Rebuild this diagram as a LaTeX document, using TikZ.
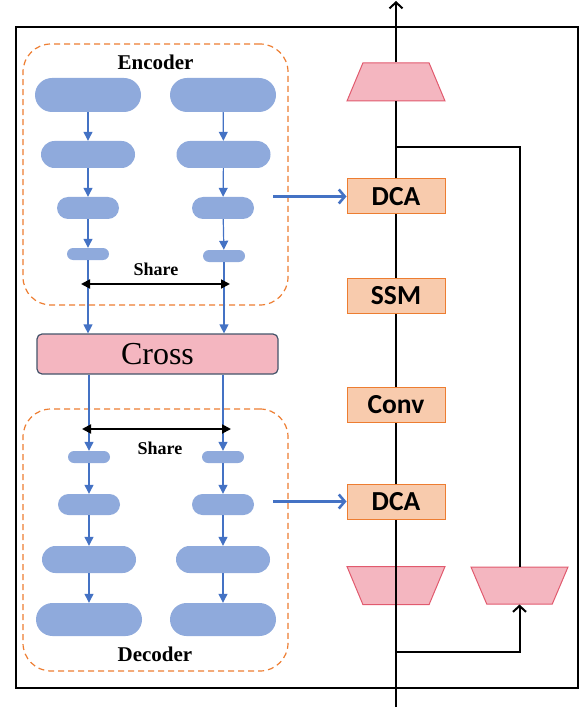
\documentclass[tikz,border=0pt]{standalone}
\usepackage{fontspec}
\setmainfont{Liberation Serif}
\newfontfamily\blockfont{Carlito}
\usetikzlibrary{positioning,shapes.geometric,shapes.misc,arrows.meta}

\definecolor{pillblue}{HTML}{8FAADC}
\definecolor{lineblue}{HTML}{4472C4}
\definecolor{orangeline}{HTML}{ED7D31}
\definecolor{orangefill}{HTML}{F8CBAD}
\definecolor{pinkfill}{HTML}{F4B6C0}
\definecolor{pinkline}{HTML}{E15A6E}
\definecolor{crossline}{HTML}{44546A}

\tikzset{
    pill/.style={rounded rectangle, fill=pillblue, inner sep=0pt},
    block/.style={rectangle, draw=orangeline, fill=orangefill, line width=1pt,
        minimum width=98pt, minimum height=35pt, inner sep=0pt,
        font=\blockfont\bfseries\fontsize{27.5}{27.5}\selectfont},
    trap/.style={trapezium, draw=pinkline, fill=pinkfill, line width=1pt,
        trapezium stretches=true, trapezium angle=76.5,
        minimum width=98pt, minimum height=38pt, inner sep=2pt},
    group/.style={rectangle, draw=orangeline, dash pattern=on 6pt off 4pt,
        line width=1.2pt, rounded corners=28pt, minimum width=265pt, minimum height=261pt},
    flow/.style={lineblue, line width=1.2pt, -{Triangle[width=9pt,length=9pt]}},
    share/.style={black, line width=1.8pt, {Triangle[width=9pt,length=9pt]}-{Triangle[width=9pt,length=9pt]}},
    main/.style={black, line width=2pt},
    feed/.style={lineblue, line width=2.6pt, -{Straight Barb[width=14pt,length=6pt]}},
}

\begin{document}
\begin{tikzpicture}[x=1pt, y=-1pt]
    \useasboundingbox (0,0) rectangle (582,711);
    % outer frame
    \draw[line width=2pt] (16,27) rectangle (578,688);

    % encoder
    \node[group](encbox) at (155.5,174.5){};
    \node[font=\bfseries\fontsize{21}{21}\selectfont](enc) at (155.5,62){Encoder};
    \node[pill, minimum width=106pt, minimum height=34pt](e1L) at (88,95){};
    \node[pill, minimum width=106pt, minimum height=34pt](e1R) at (223,95){};
    \node[pill, minimum width=94pt, minimum height=27pt](e2L) at (88,154.5){};
    \node[pill, minimum width=94pt, minimum height=27pt](e2R) at (223.5,154.5){};
    \node[pill, minimum width=62pt, minimum height=22pt](e3L) at (88,208){};
    \node[pill, minimum width=62pt, minimum height=22pt](e3R) at (223,208){};
    \node[pill, minimum width=42pt, minimum height=12pt](e4L) at (88,254){};
    \node[pill, minimum width=42pt, minimum height=12pt](e4R) at (224,256){};
    \node[font=\bfseries\fontsize{18}{18}\selectfont](encshare) at (156,269){Share};
    \coordinate (encshL) at (81,284);
    \coordinate (encshR) at (230,284);

    % cross
    \node[rectangle, rounded corners=5pt, draw=crossline, fill=pinkfill, line width=1.2pt,
        minimum width=241pt, minimum height=40pt, inner sep=0pt,
        font=\fontsize{32}{32}\selectfont](cross) at (157.5,354){Cross};

    % decoder
    \node[group, minimum height=262pt](decbox) at (155.5,540){};
    \node[font=\bfseries\fontsize{21}{21}\selectfont](dec) at (155,654){Decoder};
    \node[font=\bfseries\fontsize{18}{18}\selectfont](decshare) at (160,448){Share};
    \coordinate (decshL) at (82,429);
    \coordinate (decshR) at (231,429);
    \node[pill, minimum width=42pt, minimum height=12pt](d1L) at (89,457){};
    \node[pill, minimum width=42pt, minimum height=12pt](d1R) at (223,457){};
    \node[pill, minimum width=62pt, minimum height=21pt](d2L) at (89,504.5){};
    \node[pill, minimum width=62pt, minimum height=21pt](d2R) at (223,504.5){};
    \node[pill, minimum width=94pt, minimum height=27pt](d3L) at (89,559.5){};
    \node[pill, minimum width=94pt, minimum height=27pt](d3R) at (223,559.5){};
    \node[pill, minimum width=106pt, minimum height=33pt](d4L) at (89,619.5){};
    \node[pill, minimum width=106pt, minimum height=33pt](d4R) at (223,619.5){};

    % right branch
    \node[trap](trapT) at (396,82){};
    \node[block](dca1) at (396,196.5){DCA};
    \node[block](ssm) at (396,295.5){SSM};
    \node[block](conv) at (396,404.5){Conv};
    \node[block](dca2) at (396,501.5){DCA};
    \node[trap, shape border rotate=180](trapL) at (396,585.5){};
    \node[trap, shape border rotate=180, minimum width=97pt, minimum height=37pt](trapR) at (519.5,585.5){};
    \coordinate (in) at (396,707);
    \coordinate (out) at (396,1);
    \coordinate (split) at (396,147);
    \coordinate (skip) at (396,652);
    \coordinate (encout) at (273,196.5);
    \coordinate (decout) at (273,501.5);

    % encoder flow
    \draw[flow] (e1L) -- (e2L);
    \draw[flow] (e2L) -- (e3L);
    \draw[flow] (e3L) -- (e4L);
    \draw[flow] (e1R) -- (e2R);
    \draw[flow] (e2R) -- (e3R);
    \draw[flow] (e3R) -- (e4R);
    \draw[flow] (e4L) -- (e4L |- cross.north);
    \draw[flow] (e4R) -- (e4R |- cross.north);
    \draw[share] (encshL) -- (encshR);

    % decoder flow
    \draw[flow] (cross.south -| d1L) -- (d1L);
    \draw[flow] (cross.south -| d1R) -- (d1R);
    \draw[flow] (d1L) -- (d2L);
    \draw[flow] (d2L) -- (d3L);
    \draw[flow] (d3L) -- (d4L);
    \draw[flow] (d1R) -- (d2R);
    \draw[flow] (d2R) -- (d3R);
    \draw[flow] (d3R) -- (d4R);
    \draw[share] (decshL) -- (decshR);

    % main path
    \draw[main] (in) -- (trapL.bottom side);
    \draw[main] (trapL.top side) -- (dca2);
    \draw[main] (dca2) -- (conv);
    \draw[main] (conv) -- (ssm);
    \draw[main] (ssm) -- (dca1);
    \draw[main] (dca1) -- (trapT.bottom side);
    \draw[main, -{Straight Barb[width=13pt,length=6pt]}] (trapT.top side) -- (out);
    \draw[main] (split) -| (trapR.bottom side);
    \draw[main, -{Straight Barb[width=13pt,length=6pt]}] (skip) -| (trapR.top side);

    \draw[feed] (encout) -- (dca1);
    \draw[feed] (decout) -- (dca2);
\end{tikzpicture}
\end{document}
